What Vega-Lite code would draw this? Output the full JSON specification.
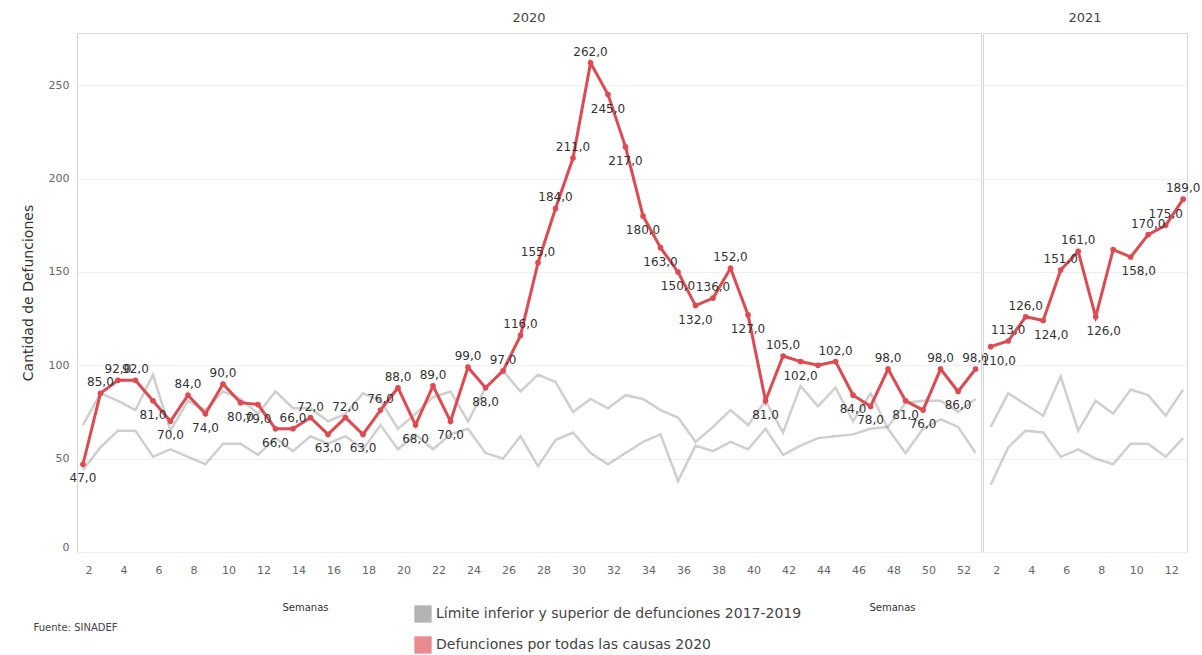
{
  "$schema": "https://vega.github.io/schema/vega-lite/v6.json",
  "background": "white",
  "padding": {"left": 20, "top": 11, "right": 8, "bottom": 2},
  "bounds": "flush",
  "config": {
    "locale": {"number": {"decimal": ",", "thousands": ".", "grouping": [3], "currency": ["", " €"]}},
    "font": "DejaVu Sans",
    "view": {"stroke": "#d6d6d6", "strokeWidth": 1},
    "axis": {"labelColor": "#666666", "labelFontSize": 11, "titleColor": "#333333", "titleFontWeight": "normal", "gridColor": "#efefef", "domain": false, "ticks": false},
    "title": {"fontSize": 13, "fontWeight": "normal", "color": "#444444"},
    "legend": {"orient": "none", "legendX": 337, "legendY": 572, "direction": "vertical", "title": null, "symbolType": "square", "symbolSize": 300, "symbolOpacity": 0.65, "symbolStrokeWidth": 0, "labelFontSize": 14, "labelColor": "#444444", "labelLimit": 600, "rowPadding": 13}
  },
  "title": {"text": "Fuente: SINADEF", "orient": "bottom", "anchor": "start", "frame": "bounds", "fontSize": 10, "color": "#444444", "offset": 0, "dx": 13, "dy": -31},
  "datasets": {
    "defunciones": [
      {"year": 2020, "week": 1, "value": 47}, {"year": 2020, "week": 2, "value": 85}, {"year": 2020, "week": 3, "value": 92}, {"year": 2020, "week": 4, "value": 92},
      {"year": 2020, "week": 5, "value": 81}, {"year": 2020, "week": 6, "value": 70}, {"year": 2020, "week": 7, "value": 84}, {"year": 2020, "week": 8, "value": 74},
      {"year": 2020, "week": 9, "value": 90}, {"year": 2020, "week": 10, "value": 80}, {"year": 2020, "week": 11, "value": 79}, {"year": 2020, "week": 12, "value": 66},
      {"year": 2020, "week": 13, "value": 66}, {"year": 2020, "week": 14, "value": 72}, {"year": 2020, "week": 15, "value": 63}, {"year": 2020, "week": 16, "value": 72},
      {"year": 2020, "week": 17, "value": 63}, {"year": 2020, "week": 18, "value": 76}, {"year": 2020, "week": 19, "value": 88}, {"year": 2020, "week": 20, "value": 68},
      {"year": 2020, "week": 21, "value": 89}, {"year": 2020, "week": 22, "value": 70}, {"year": 2020, "week": 23, "value": 99}, {"year": 2020, "week": 24, "value": 88},
      {"year": 2020, "week": 25, "value": 97}, {"year": 2020, "week": 26, "value": 116}, {"year": 2020, "week": 27, "value": 155}, {"year": 2020, "week": 28, "value": 184},
      {"year": 2020, "week": 29, "value": 211}, {"year": 2020, "week": 30, "value": 262}, {"year": 2020, "week": 31, "value": 245}, {"year": 2020, "week": 32, "value": 217},
      {"year": 2020, "week": 33, "value": 180}, {"year": 2020, "week": 34, "value": 163}, {"year": 2020, "week": 35, "value": 150}, {"year": 2020, "week": 36, "value": 132},
      {"year": 2020, "week": 37, "value": 136}, {"year": 2020, "week": 38, "value": 152}, {"year": 2020, "week": 39, "value": 127}, {"year": 2020, "week": 40, "value": 81},
      {"year": 2020, "week": 41, "value": 105}, {"year": 2020, "week": 42, "value": 102}, {"year": 2020, "week": 43, "value": 100}, {"year": 2020, "week": 44, "value": 102},
      {"year": 2020, "week": 45, "value": 84}, {"year": 2020, "week": 46, "value": 78}, {"year": 2020, "week": 47, "value": 98}, {"year": 2020, "week": 48, "value": 81},
      {"year": 2020, "week": 49, "value": 76}, {"year": 2020, "week": 50, "value": 98}, {"year": 2020, "week": 51, "value": 86}, {"year": 2020, "week": 52, "value": 98},
      {"year": 2021, "week": 1, "value": 110}, {"year": 2021, "week": 2, "value": 113}, {"year": 2021, "week": 3, "value": 126}, {"year": 2021, "week": 4, "value": 124},
      {"year": 2021, "week": 5, "value": 151}, {"year": 2021, "week": 6, "value": 161}, {"year": 2021, "week": 7, "value": 126}, {"year": 2021, "week": 8, "value": 162},
      {"year": 2021, "week": 9, "value": 158}, {"year": 2021, "week": 10, "value": 170}, {"year": 2021, "week": 11, "value": 175}, {"year": 2021, "week": 12, "value": 189}
    ],
    "limites": [
      {"year": 2020, "week": 1, "limite": "superior", "value": 68}, {"year": 2020, "week": 2, "limite": "superior", "value": 85}, {"year": 2020, "week": 3, "limite": "superior", "value": 81}, {"year": 2020, "week": 4, "limite": "superior", "value": 76},
      {"year": 2020, "week": 5, "limite": "superior", "value": 95}, {"year": 2020, "week": 6, "limite": "superior", "value": 65}, {"year": 2020, "week": 7, "limite": "superior", "value": 81}, {"year": 2020, "week": 8, "limite": "superior", "value": 76},
      {"year": 2020, "week": 9, "limite": "superior", "value": 86}, {"year": 2020, "week": 10, "limite": "superior", "value": 82}, {"year": 2020, "week": 11, "limite": "superior", "value": 74}, {"year": 2020, "week": 12, "limite": "superior", "value": 86},
      {"year": 2020, "week": 13, "limite": "superior", "value": 77}, {"year": 2020, "week": 14, "limite": "superior", "value": 77}, {"year": 2020, "week": 15, "limite": "superior", "value": 70}, {"year": 2020, "week": 16, "limite": "superior", "value": 74},
      {"year": 2020, "week": 17, "limite": "superior", "value": 85}, {"year": 2020, "week": 18, "limite": "superior", "value": 81}, {"year": 2020, "week": 19, "limite": "superior", "value": 66}, {"year": 2020, "week": 20, "limite": "superior", "value": 74},
      {"year": 2020, "week": 21, "limite": "superior", "value": 83}, {"year": 2020, "week": 22, "limite": "superior", "value": 86}, {"year": 2020, "week": 23, "limite": "superior", "value": 70}, {"year": 2020, "week": 24, "limite": "superior", "value": 88},
      {"year": 2020, "week": 25, "limite": "superior", "value": 97}, {"year": 2020, "week": 26, "limite": "superior", "value": 86}, {"year": 2020, "week": 27, "limite": "superior", "value": 95}, {"year": 2020, "week": 28, "limite": "superior", "value": 91},
      {"year": 2020, "week": 29, "limite": "superior", "value": 75}, {"year": 2020, "week": 30, "limite": "superior", "value": 82}, {"year": 2020, "week": 31, "limite": "superior", "value": 77}, {"year": 2020, "week": 32, "limite": "superior", "value": 84},
      {"year": 2020, "week": 33, "limite": "superior", "value": 82}, {"year": 2020, "week": 34, "limite": "superior", "value": 76}, {"year": 2020, "week": 35, "limite": "superior", "value": 72}, {"year": 2020, "week": 36, "limite": "superior", "value": 59},
      {"year": 2020, "week": 37, "limite": "superior", "value": 67}, {"year": 2020, "week": 38, "limite": "superior", "value": 76}, {"year": 2020, "week": 39, "limite": "superior", "value": 68}, {"year": 2020, "week": 40, "limite": "superior", "value": 81},
      {"year": 2020, "week": 41, "limite": "superior", "value": 64}, {"year": 2020, "week": 42, "limite": "superior", "value": 89}, {"year": 2020, "week": 43, "limite": "superior", "value": 78}, {"year": 2020, "week": 44, "limite": "superior", "value": 88},
      {"year": 2020, "week": 45, "limite": "superior", "value": 70}, {"year": 2020, "week": 46, "limite": "superior", "value": 85}, {"year": 2020, "week": 47, "limite": "superior", "value": 66}, {"year": 2020, "week": 48, "limite": "superior", "value": 53},
      {"year": 2020, "week": 49, "limite": "superior", "value": 66}, {"year": 2020, "week": 50, "limite": "superior", "value": 71}, {"year": 2020, "week": 51, "limite": "superior", "value": 67}, {"year": 2020, "week": 52, "limite": "superior", "value": 53},
      {"year": 2020, "week": 1, "limite": "inferior", "value": 44}, {"year": 2020, "week": 2, "limite": "inferior", "value": 56}, {"year": 2020, "week": 3, "limite": "inferior", "value": 65}, {"year": 2020, "week": 4, "limite": "inferior", "value": 65},
      {"year": 2020, "week": 5, "limite": "inferior", "value": 51}, {"year": 2020, "week": 6, "limite": "inferior", "value": 55}, {"year": 2020, "week": 7, "limite": "inferior", "value": 51}, {"year": 2020, "week": 8, "limite": "inferior", "value": 47},
      {"year": 2020, "week": 9, "limite": "inferior", "value": 58}, {"year": 2020, "week": 10, "limite": "inferior", "value": 58}, {"year": 2020, "week": 11, "limite": "inferior", "value": 52}, {"year": 2020, "week": 12, "limite": "inferior", "value": 61},
      {"year": 2020, "week": 13, "limite": "inferior", "value": 54}, {"year": 2020, "week": 14, "limite": "inferior", "value": 62}, {"year": 2020, "week": 15, "limite": "inferior", "value": 58}, {"year": 2020, "week": 16, "limite": "inferior", "value": 62},
      {"year": 2020, "week": 17, "limite": "inferior", "value": 55}, {"year": 2020, "week": 18, "limite": "inferior", "value": 68}, {"year": 2020, "week": 19, "limite": "inferior", "value": 55}, {"year": 2020, "week": 20, "limite": "inferior", "value": 63},
      {"year": 2020, "week": 21, "limite": "inferior", "value": 55}, {"year": 2020, "week": 22, "limite": "inferior", "value": 63}, {"year": 2020, "week": 23, "limite": "inferior", "value": 66}, {"year": 2020, "week": 24, "limite": "inferior", "value": 53},
      {"year": 2020, "week": 25, "limite": "inferior", "value": 50}, {"year": 2020, "week": 26, "limite": "inferior", "value": 62}, {"year": 2020, "week": 27, "limite": "inferior", "value": 46}, {"year": 2020, "week": 28, "limite": "inferior", "value": 60},
      {"year": 2020, "week": 29, "limite": "inferior", "value": 64}, {"year": 2020, "week": 30, "limite": "inferior", "value": 53}, {"year": 2020, "week": 31, "limite": "inferior", "value": 47}, {"year": 2020, "week": 32, "limite": "inferior", "value": 53},
      {"year": 2020, "week": 33, "limite": "inferior", "value": 59}, {"year": 2020, "week": 34, "limite": "inferior", "value": 63}, {"year": 2020, "week": 35, "limite": "inferior", "value": 38}, {"year": 2020, "week": 36, "limite": "inferior", "value": 57},
      {"year": 2020, "week": 37, "limite": "inferior", "value": 54}, {"year": 2020, "week": 38, "limite": "inferior", "value": 59}, {"year": 2020, "week": 39, "limite": "inferior", "value": 55}, {"year": 2020, "week": 40, "limite": "inferior", "value": 66},
      {"year": 2020, "week": 41, "limite": "inferior", "value": 52}, {"year": 2020, "week": 42, "limite": "inferior", "value": 57}, {"year": 2020, "week": 43, "limite": "inferior", "value": 61}, {"year": 2020, "week": 44, "limite": "inferior", "value": 62},
      {"year": 2020, "week": 45, "limite": "inferior", "value": 63}, {"year": 2020, "week": 46, "limite": "inferior", "value": 66}, {"year": 2020, "week": 47, "limite": "inferior", "value": 67}, {"year": 2020, "week": 48, "limite": "inferior", "value": 80},
      {"year": 2020, "week": 49, "limite": "inferior", "value": 81}, {"year": 2020, "week": 50, "limite": "inferior", "value": 81}, {"year": 2020, "week": 51, "limite": "inferior", "value": 75}, {"year": 2020, "week": 52, "limite": "inferior", "value": 82},
      {"year": 2021, "week": 1, "limite": "superior", "value": 67}, {"year": 2021, "week": 2, "limite": "superior", "value": 85}, {"year": 2021, "week": 3, "limite": "superior", "value": 79}, {"year": 2021, "week": 4, "limite": "superior", "value": 73},
      {"year": 2021, "week": 5, "limite": "superior", "value": 94}, {"year": 2021, "week": 6, "limite": "superior", "value": 65}, {"year": 2021, "week": 7, "limite": "superior", "value": 81}, {"year": 2021, "week": 8, "limite": "superior", "value": 74},
      {"year": 2021, "week": 9, "limite": "superior", "value": 87}, {"year": 2021, "week": 10, "limite": "superior", "value": 84}, {"year": 2021, "week": 11, "limite": "superior", "value": 73}, {"year": 2021, "week": 12, "limite": "superior", "value": 87},
      {"year": 2021, "week": 1, "limite": "inferior", "value": 36}, {"year": 2021, "week": 2, "limite": "inferior", "value": 56}, {"year": 2021, "week": 3, "limite": "inferior", "value": 65}, {"year": 2021, "week": 4, "limite": "inferior", "value": 64},
      {"year": 2021, "week": 5, "limite": "inferior", "value": 51}, {"year": 2021, "week": 6, "limite": "inferior", "value": 55}, {"year": 2021, "week": 7, "limite": "inferior", "value": 50}, {"year": 2021, "week": 8, "limite": "inferior", "value": 47},
      {"year": 2021, "week": 9, "limite": "inferior", "value": 58}, {"year": 2021, "week": 10, "limite": "inferior", "value": 58}, {"year": 2021, "week": 11, "limite": "inferior", "value": 51}, {"year": 2021, "week": 12, "limite": "inferior", "value": 61}
    ]
  },
  "spacing": 2,
  "resolve": {"scale": {"color": "shared", "y": "shared"}, "legend": {"color": "shared"}},
  "hconcat": [
    {
      "width": 904,
      "height": 519,
      "title": {"text": "2020", "offset": 8},
      "encoding": {
        "x": {"field": "week", "type": "quantitative", "scale": {"domain": [0.66, 52.31], "nice": false, "zero": false},
              "axis": {"values": [2,4,6,8,10,12,14,16,18,20,22,24,26,28,30,32,34,36,38,40,42,44,46,48,50,52], "grid": false, "labelPadding": 12, "labelOffset": -12, "title": "Semanas", "titleFontSize": 10, "titleX": 228, "titleY": 50}},
        "y": {"field": "value", "type": "quantitative", "scale": {"domain": [0, 278], "nice": false},
              "axis": {"values": [0,50,100,150,200,250], "title": "Cantidad de Defunciones", "titleFontSize": 14, "labelFontSize": 11, "labelPadding": 8, "titlePadding": 13, "labelFlush": true, "grid": true}}
      },
      "layer": [
        {
          "data": {"name": "limites"},
          "transform": [{"filter": "datum.year == 2020"}],
          "mark": {"type": "line", "strokeWidth": 2.5, "strokeOpacity": 0.42},
          "encoding": {
            "detail": {"field": "limite"},
            "color": {"datum": "Límite inferior y superior de defunciones 2017-2019", "scale": {"domain": ["Límite inferior y superior de defunciones 2017-2019", "Defunciones por todas las causas 2020"], "range": ["#8c8c8c", "#df4a51"]}}
          }
        },
        {
          "data": {"name": "defunciones"},
          "transform": [{"filter": "datum.year == 2020"}],
          "mark": {"type": "line", "strokeWidth": 3, "point": {"filled": true, "size": 32}},
          "encoding": {
            "color": {"datum": "Defunciones por todas las causas 2020", "scale": {"domain": ["Límite inferior y superior de defunciones 2017-2019", "Defunciones por todas las causas 2020"], "range": ["#8c8c8c", "#df4a51"]}}
          }
        },
        {
          "data": {"name": "defunciones"},
          "transform": [
            {"filter": "datum.year == 2020"},
            {"window": [{"op": "lag", "field": "value", "as": "prev"}], "sort": [{"field": "week"}]},
            {"filter": "datum.week != 43"},
            {"filter": "datum.prev != null && datum.value >= datum.prev"}
          ],
          "mark": {"type": "text", "dy": -11, "fontSize": 12, "color": "#333333"},
          "encoding": {"text": {"field": "value", "type": "quantitative", "format": ".1f"}}
        },
        {
          "data": {"name": "defunciones"},
          "transform": [
            {"filter": "datum.year == 2020"},
            {"window": [{"op": "lag", "field": "value", "as": "prev"}], "sort": [{"field": "week"}]},
            {"filter": "datum.week != 43"},
            {"filter": "datum.prev == null || datum.value < datum.prev"}
          ],
          "mark": {"type": "text", "dy": 14, "fontSize": 12, "color": "#333333"},
          "encoding": {"text": {"field": "value", "type": "quantitative", "format": ".1f"}}
        }
      ]
    },
    {
      "width": 204,
      "height": 519,
      "title": {"text": "2021", "offset": 8},
      "encoding": {
        "x": {"field": "week", "type": "quantitative", "scale": {"domain": [0.56, 12.22], "nice": false, "zero": false},
              "axis": {"values": [2,4,6,8,10,12], "grid": false, "labelPadding": 12, "labelOffset": -12, "title": "Semanas", "titleFontSize": 10, "titleX": -91, "titleY": 50}},
        "y": {"field": "value", "type": "quantitative", "scale": {"domain": [0, 278], "nice": false},
              "axis": {"values": [0,50,100,150,200,250], "title": null, "labels": false, "grid": true}}
      },
      "layer": [
        {
          "data": {"name": "limites"},
          "transform": [{"filter": "datum.year == 2021"}],
          "mark": {"type": "line", "strokeWidth": 2.5, "strokeOpacity": 0.42},
          "encoding": {
            "detail": {"field": "limite"},
            "color": {"datum": "Límite inferior y superior de defunciones 2017-2019", "scale": {"domain": ["Límite inferior y superior de defunciones 2017-2019", "Defunciones por todas las causas 2020"], "range": ["#8c8c8c", "#df4a51"]}}
          }
        },
        {
          "data": {"name": "defunciones"},
          "transform": [{"filter": "datum.year == 2021"}],
          "mark": {"type": "line", "strokeWidth": 3, "point": {"filled": true, "size": 32}},
          "encoding": {
            "color": {"datum": "Defunciones por todas las causas 2020", "scale": {"domain": ["Límite inferior y superior de defunciones 2017-2019", "Defunciones por todas las causas 2020"], "range": ["#8c8c8c", "#df4a51"]}}
          }
        },
        {
          "data": {"name": "defunciones"},
          "transform": [
            {"filter": "datum.year == 2021"},
            {"window": [{"op": "lag", "field": "value", "as": "prev"}], "sort": [{"field": "week"}]},
            {"filter": "datum.week != 8"},
            {"filter": "datum.prev != null && datum.value >= datum.prev"}
          ],
          "mark": {"type": "text", "dy": -11, "fontSize": 12, "color": "#333333"},
          "encoding": {"text": {"field": "value", "type": "quantitative", "format": ".1f"}}
        },
        {
          "data": {"name": "defunciones"},
          "transform": [
            {"filter": "datum.year == 2021"},
            {"window": [{"op": "lag", "field": "value", "as": "prev"}], "sort": [{"field": "week"}]},
            {"filter": "datum.week != 8"},
            {"filter": "datum.prev == null || datum.value < datum.prev"}
          ],
          "mark": {"type": "text", "dy": 14, "dx": 8, "fontSize": 12, "color": "#333333"},
          "encoding": {"text": {"field": "value", "type": "quantitative", "format": ".1f"}}
        }
      ]
    }
  ]
}
